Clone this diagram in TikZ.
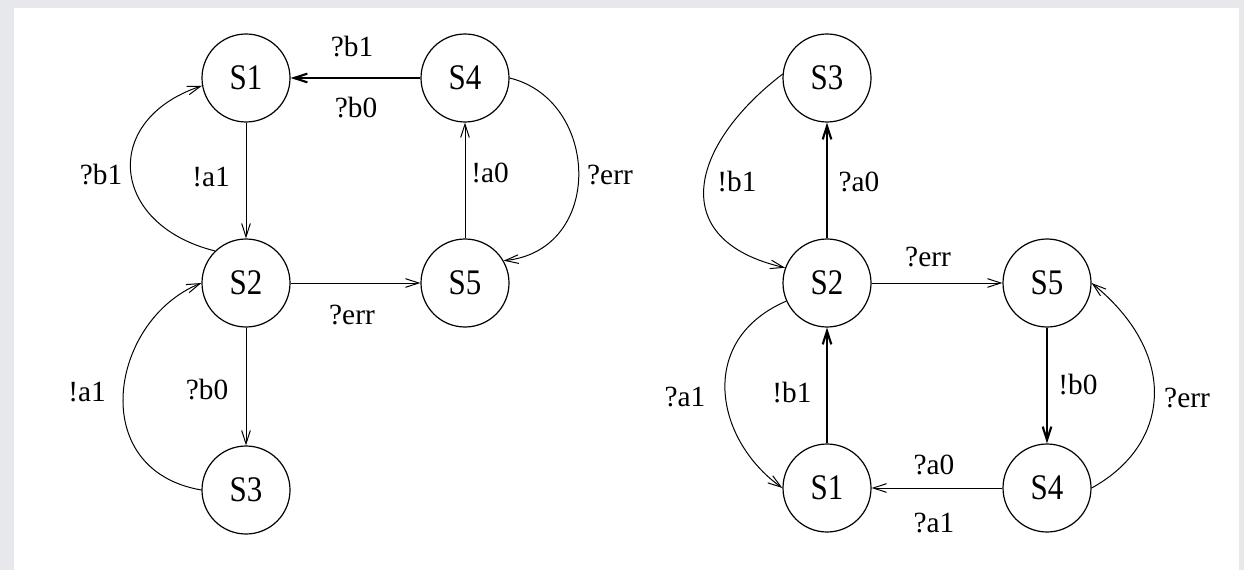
\documentclass[tikz,border=0pt]{standalone}
\usepackage{fontspec}
\setmainfont{Liberation Serif}
\newfontfamily\statefont[FakeStretch=0.86]{Liberation Serif}
\usepackage{xcolor}
\usetikzlibrary{arrows.meta}

\definecolor{framegray}{HTML}{E6E8EC}

\begin{document}
\begin{tikzpicture}[
    x=0.75pt, y=-0.75pt,
    >={Straight Barb[length=10pt, width=6.5pt]},
    % States
    state/.style={
        circle, draw=black, line width=0.9pt, minimum size=66pt, inner sep=0pt,
        font=\statefont\fontsize{27}{30}\selectfont
    },
    % Transition labels
    lbl/.style={font=\fontsize{22}{26}\selectfont, inner sep=0pt},
    % Thin arrow
    arr/.style={->, line width=0.75pt},
    % Thick arrow
    tarr/.style={->, line width=1.6pt},
]

% ===== FRAME =====
\fill[framegray] (0,0) rectangle (1244,570);
\fill[white] (14,8) rectangle (1239,570);

% ===== LEFT MACHINE =====
\node[state] (l1) at (246,78) {S1};
\node[state] (l4) at (465,78) {S4};
\node[state] (l2) at (246,283) {S2};
\node[state] (l5) at (465,283) {S5};
\node[state] (l3) at (246,490) {S3};

\draw[tarr] (l4) -- (l1);
\draw[arr] (l1) -- (l2);
\draw[arr] (l2) -- (l5);
\draw[arr] (l2) -- (l3);
\draw[arr] (l5) -- (l4);
\draw[arr] (l2.134) .. controls (110,225) and (100,120) .. (l1.190);
\draw[arr] (l3.west) .. controls (85,470) and (110,320) .. (l2.west);
\draw[arr] (l4.east) .. controls (600,100) and (605,250) .. (l5.30);

\node[lbl] (lb1) at (352,47) {?b1};
\node[lbl] (lb2) at (356,108) {?b0};
\node[lbl] (lb3) at (101,175) {?b1};
\node[lbl] (lb4) at (211,177) {!a1};
\node[lbl] (lb5) at (490,173) {!a0};
\node[lbl] (lb6) at (610,175) {?err};
\node[lbl] (lb7) at (352,315) {?err};
\node[lbl] (lb8) at (87,392) {!a1};
\node[lbl] (lb9) at (207,390) {?b0};

% ===== RIGHT MACHINE =====
\node[state] (r3) at (827,78) {S3};
\node[state] (r2) at (827,283) {S2};
\node[state] (r5) at (1047,283) {S5};
\node[state] (r1) at (827,488) {S1};
\node[state] (r4) at (1047,488) {S4};

\draw[tarr] (r2) -- (r3);
\draw[arr] (r2) -- (r5);
\draw[tarr] (r1) -- (r2);
\draw[tarr] (r5) -- (r4);
\draw[arr] (r4) -- (r1);
\draw[arr] (r3.175) .. controls (690,145) and (665,240) .. (r2.160);
\draw[arr] (r2.204) .. controls (696,340) and (715,440) .. (r1.west);
\draw[arr] (r4.east) .. controls (1170,445) and (1180,355) .. (r5.east);

\node[lbl] (rb1) at (737,182) {!b1};
\node[lbl] (rb2) at (859,182) {?a0};
\node[lbl] (rb3) at (928,257) {?err};
\node[lbl] (rb4) at (685,397) {?a1};
\node[lbl] (rb5) at (792,393) {!b1};
\node[lbl] (rb6) at (1078,385) {!b0};
\node[lbl] (rb7) at (1187,398) {?err};
\node[lbl] (rb8) at (934,465) {?a0};
\node[lbl] (rb9) at (934,523) {?a1};

\end{tikzpicture}
\end{document}
